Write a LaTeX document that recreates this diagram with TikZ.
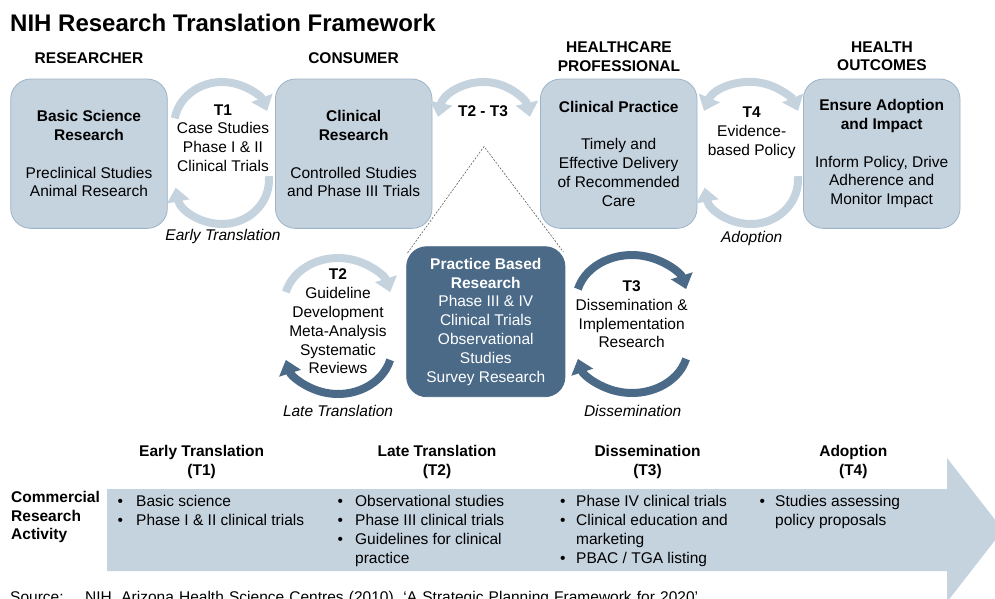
\documentclass[tikz,border=0pt]{standalone}
\usepackage{fontspec}
\setmainfont{Liberation Sans}
\usetikzlibrary{arrows.meta}
\definecolor{lightb}{HTML}{C5D3DF}
\definecolor{edgeb}{HTML}{9DB3C7}
\definecolor{darkb}{HTML}{4A6A88}
\definecolor{dashg}{HTML}{606060}
\newcommand\bodyf{\fontsize{15.5}{18.8}\selectfont}
\newcommand\bul[1]{\makebox[#1][l]{\textbullet}}
\begin{document}
\begin{tikzpicture}[x=1pt,y=1pt,
  lbox/.style={draw=edgeb, line width=0.8pt, fill=lightb, rounded corners=20pt,
    minimum width=156.6pt, minimum height=149.3pt, align=center, inner sep=0pt, font=\bodyf},
  dbox/.style={lbox, fill=darkb, draw=darkb, text=white, minimum width=158.3pt, minimum height=150pt},
  lbl/.style={align=center, inner sep=0pt, font=\bodyf},
  hdr/.style={align=center, inner sep=0pt, font=\bodyf\bfseries},
  lst/.style={align=left, inner sep=0pt, font=\bodyf},
  cyc/.style={line width=8pt, draw=lightb},
  cycd/.style={line width=8pt, draw=darkb},
  tipe/.style={-{Triangle[width=22pt,length=14pt]}},
  tipb/.style={{Triangle[width=22pt,length=14pt]}-{Triangle[width=22pt,length=14pt]}},
  dashln/.style={draw=dashg, line width=0.6pt, dash pattern=on 2pt off 1.5pt}
]
\useasboundingbox (0,0) rectangle (995,-599);
\clip (0,0) rectangle (995,-599);
\fill[white] (0,0) rectangle (995,-599);

% title
\node[anchor=base west, inner sep=0pt, font=\fontsize{24}{28}\selectfont\bfseries] (title) at (10,-31.5) {NIH Research Translation Framework};

% column headers
\node[hdr, anchor=base] (h1) at (89,-64) {RESEARCHER};
\node[hdr, anchor=base] (h2) at (353.5,-64) {CONSUMER};
\node[hdr] (h3) at (619,-56.3) {HEALTHCARE\\PROFESSIONAL};
\node[hdr] (h4) at (882,-56.3) {HEALTH\\OUTCOMES};

% big arrow (bottom)
\fill[lightb] (107,-489) -- (947,-489) -- (947,-458) -- (1003,-530) -- (947,-602) -- (947,-571) -- (107,-571) -- cycle;

% boxes
\node[lbox] (b1) at (89,-153.7) {\textbf{Basic Science}\\\textbf{Research}\\[18.8pt]Preclinical Studies\\Animal Research};
\node[lbox] (b2) at (353.7,-153.7) {\textbf{Clinical}\\\textbf{Research}\\[18.8pt]Controlled Studies\\and Phase III Trials};
\node[lbox] (b3) at (618.7,-153.7) {\textbf{Clinical Practice}\\[18.8pt]Timely and\\Effective Delivery\\of Recommended\\Care};
\node[lbox] (b4) at (881.7,-153.7) {\textbf{Ensure Adoption}\\\textbf{and Impact}\\[18.8pt]Inform Policy, Drive\\Adherence and\\Monitor Impact};
\node[dbox] (mid) at (485.8,-321.7) {\textbf{Practice Based}\\\textbf{Research}\\Phase III \& IV\\Clinical Trials\\Observational\\Studies\\Survey Research};

% dashed callout
\coordinate (apex) at (484,-146.5);
\coordinate (dl) at (407.5,-253);
\coordinate (dr) at (563.5,-252);
\draw[dashln] (dl) -- (apex) -- (dr);

% T1 cycle
\draw[cyc,tipe] (222,-126) ++(170:48 and 44) arc[start angle=170,end angle=20,x radius=48,y radius=44];
\draw[cyc,tipe] (222,-180) ++(5:47 and 44) arc[start angle=5,end angle=-170,x radius=47,y radius=44];
\node[lbl] (t1) at (223,-138) {\textbf{T1}\\Case Studies\\Phase I \& II\\Clinical Trials};
\node[lbl, font=\bodyf\itshape] (e1) at (223,-236) {Early Translation};

% T2-T3
\draw[cyc,tipb] (484,-126) ++(168:47 and 44) arc[start angle=168,end angle=12,x radius=47,y radius=44];
\node[hdr] (t23) at (483,-111) {T2 - T3};

% T4 cycle
\draw[cyc,tipb] (751,-126) ++(160:50 and 44) arc[start angle=160,end angle=20,x radius=50,y radius=44];
\draw[cyc,tipe] (751,-180) ++(5:47 and 44) arc[start angle=5,end angle=-170,x radius=47,y radius=44];
\node[lbl] (t4) at (751.7,-132.5) {\textbf{T4}\\Evidence-\\based Policy};
\node[lbl, font=\bodyf\itshape] (e4) at (751.7,-238) {Adoption};

% T2 cycle
\draw[cyc,tipe] (338,-304) ++(165:54 and 46) arc[start angle=165,end angle=15,x radius=54,y radius=46];
\draw[cycd,tipe] (338,-348) ++(-15:54 and 46) arc[start angle=-15,end angle=-165,x radius=54,y radius=46];
\node[lbl] (t2) at (338,-321.5) {\textbf{T2}\\Guideline\\Development\\Meta-Analysis\\Systematic\\Reviews};
\node[lbl, font=\bodyf\itshape] (e2) at (338,-411) {Late Translation};

% T3 cycle
\draw[cycd,tipe] (632,-301) ++(165:56 and 46) arc[start angle=165,end angle=15,x radius=56,y radius=46];
\draw[cycd,tipe] (632,-347) ++(-15:56 and 46) arc[start angle=-15,end angle=-165,x radius=56,y radius=46];
\node[lbl] (t3) at (631.7,-314.3) {\textbf{T3}\\Dissemination \&\\Implementation\\Research};
\node[lbl, font=\bodyf\itshape] (e3) at (632.7,-411) {Dissemination};

% bottom headers
\node[hdr] (c1) at (201.7,-462) {Early Translation\\(T1)};
\node[hdr] (c2) at (437,-462) {Late Translation\\(T2)};
\node[hdr] (c3) at (647.5,-462) {Dissemination\\(T3)};
\node[hdr] (c4) at (853.3,-462) {Adoption\\(T4)};
\node[lst, font=\bodyf\bfseries, anchor=north west] (cra) at (11,-490.8) {Commercial\\Research\\Activity};

% bullet lists
\node[lst, anchor=north west] (l1) at (117.5,-495.3) {\bul{18.5pt}Basic science\\\bul{18.5pt}Phase I \& II clinical trials};
\node[lst, anchor=north west] (l2) at (337.5,-495.3) {\bul{17.5pt}Observational studies\\\bul{17.5pt}Phase III clinical trials\\\bul{17.5pt}Guidelines for clinical\\\hspace*{17.5pt}practice};
\node[lst, anchor=north west] (l3) at (560,-495.3) {\bul{16pt}Phase IV clinical trials\\\bul{16pt}Clinical education and\\\hspace*{16pt}marketing\\\bul{16pt}PBAC / TGA listing};
\node[lst, anchor=north west] (l4) at (759.5,-495.3) {\bul{15.5pt}Studies assessing\\\hspace*{15.5pt}policy proposals};

% source
\node[anchor=base west, inner sep=0pt, font=\bodyf] (src) at (10,-602) {Source:};
\node[anchor=base west, inner sep=0pt, font=\bodyf] (srct) at (85,-602) {\makebox[613pt][s]{NIH, Arizona Health Science Centres (2010), `A Strategic Planning Framework for 2020'}};
\end{tikzpicture}
\end{document}
